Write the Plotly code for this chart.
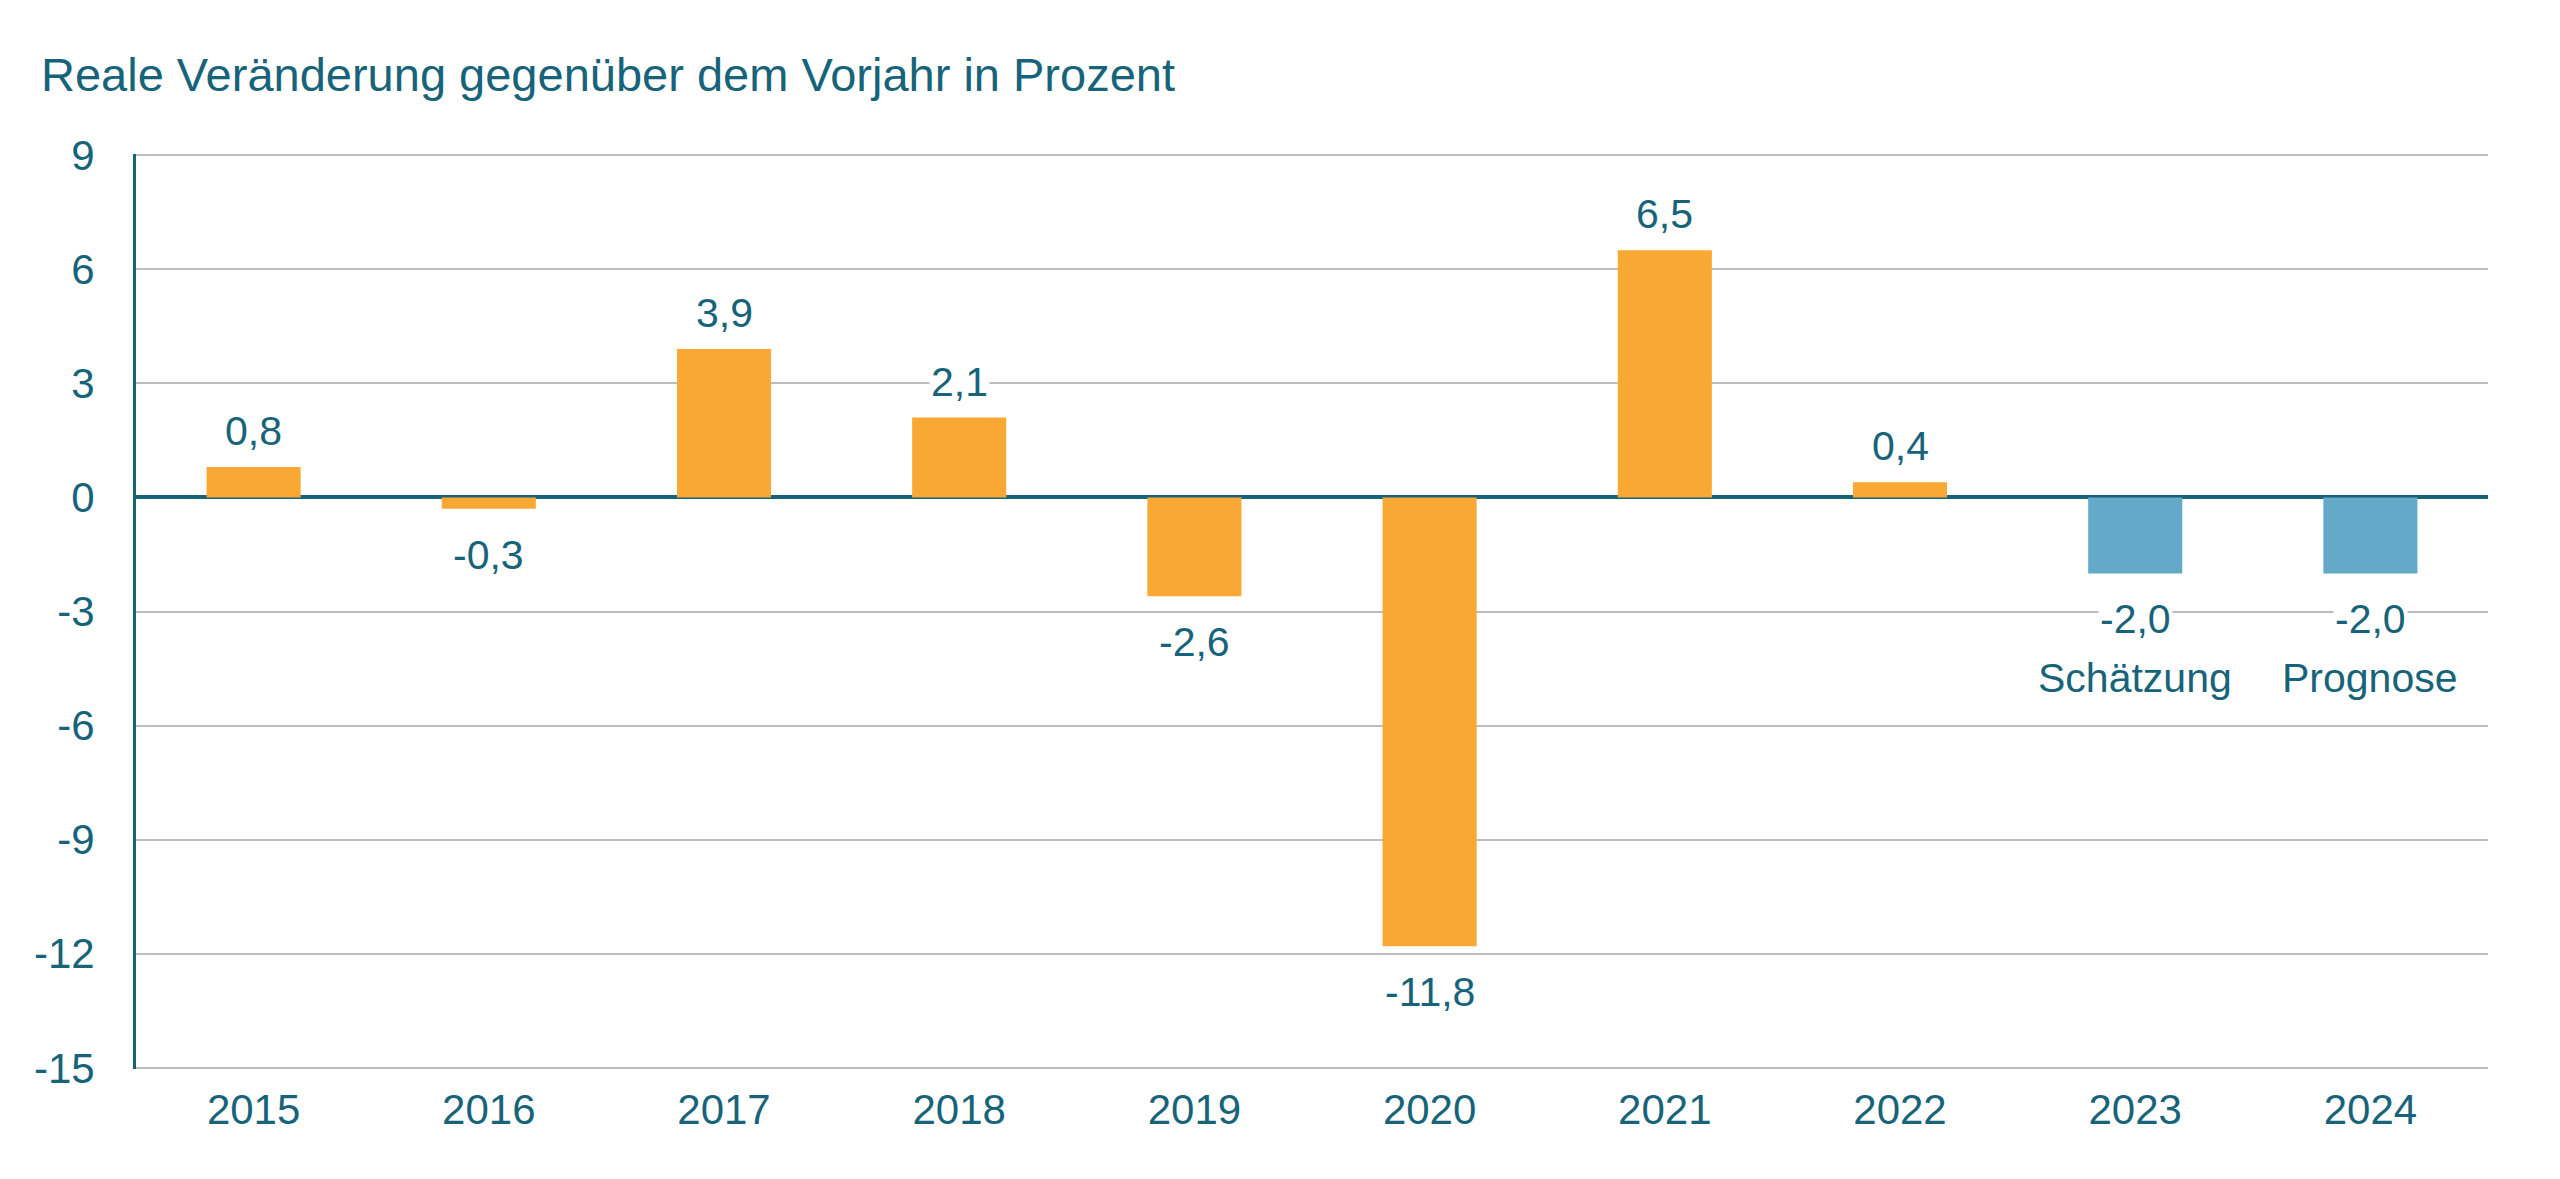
import plotly.graph_objects as go

# Daten
jahre = ["2015", "2016", "2017", "2018", "2019", "2020", "2021", "2022", "2023", "2024"]
veraenderung = [0.8, -0.3, 3.9, 2.1, -2.6, -11.8, 6.5, 0.4, -2.0, -2.0]
status = ["Ist", "Ist", "Ist", "Ist", "Ist", "Ist", "Ist", "Ist", "Schätzung", "Prognose"]
y_ticks = [9, 6, 3, 0, -3, -6, -9, -12, -15]

TEAL = "#17647A"
farben = {"Ist": "#F9A834", "Schätzung": "#64A9C8", "Prognose": "#64A9C8"}
FONT = "Liberation Sans, Arial, sans-serif"

# Seite hat 8px Body-Rand -> Figur entsprechend kleiner
W, H = 2544, 1163

fig = go.Figure()

fig.add_trace(go.Bar(
    x=jahre, y=veraenderung,
    marker=dict(color=[farben[s] for s in status], line=dict(width=0)),
    width=0.4,
    hoverinfo="x+y",
    showlegend=False,
))

# Datenbeschriftungen (weißer Hintergrund unterbricht die Gitterlinien)
# Kategorie-Achse: x als Index, sonst wird "2015" als Zahl gelesen
for i, (wert, st) in enumerate(zip(veraenderung, status)):
    fig.add_annotation(
        x=i, y=wert,
        text=f"{wert:.1f}".replace(".", ","),
        showarrow=False,
        font=dict(family=FONT, size=41, color=TEAL),
        bgcolor="white",
        yanchor="middle",
        yshift=36 if wert >= 0 else -46,
    )
    if st != "Ist":
        fig.add_annotation(
            x=i, y=wert, text=st, showarrow=False,
            font=dict(family=FONT, size=41, color=TEAL),
            yanchor="middle", yshift=-105,
        )

fig.update_layout(
    width=W, height=H,
    margin=dict(l=128, r=64, t=146, b=102),
    plot_bgcolor="white",
    paper_bgcolor="white",
    title=dict(
        text="Reale Veränderung gegenüber dem Vorjahr in Prozent",
        x=33 / W, xanchor="left", xref="container",
        y=1 - 67 / H, yanchor="middle", yref="container",
        font=dict(family=FONT, size=47, color=TEAL),
    ),
    xaxis=dict(
        type="category",
        range=[-0.5, len(jahre) - 0.5],
        showgrid=False,
        showline=False,
        ticks="",
        tickfont=dict(family=FONT, size=42, color=TEAL),
        ticklabelstandoff=12,
    ),
    yaxis=dict(
        range=[-15.03, 9.03],
        tickvals=y_ticks,
        ticktext=[str(t) for t in y_ticks],
        showgrid=True,
        gridcolor="#BDBDBD",
        gridwidth=2,
        zeroline=True,
        zerolinecolor=TEAL,
        zerolinewidth=4,
        showline=True,
        linecolor=TEAL,
        linewidth=3,
        ticks="",
        ticklabelstandoff=30,
        tickfont=dict(family=FONT, size=42, color=TEAL),
    ),
)

fig.write_html("out.html")
